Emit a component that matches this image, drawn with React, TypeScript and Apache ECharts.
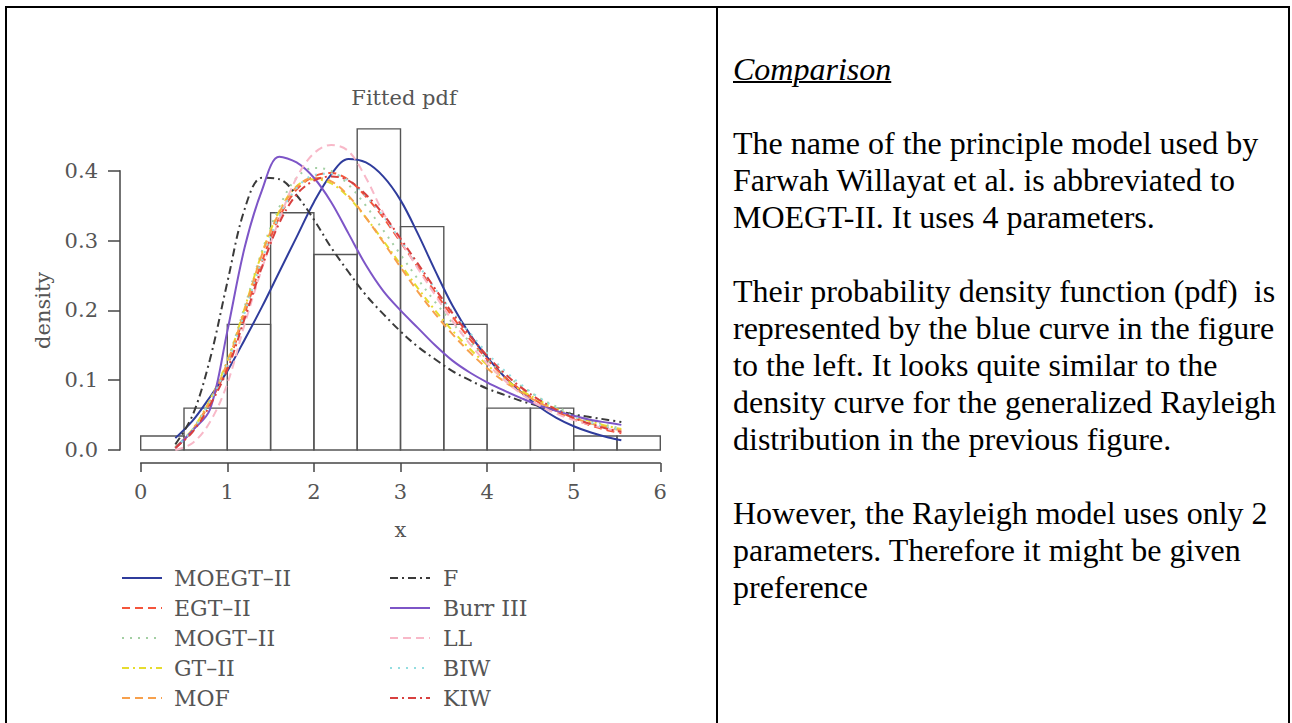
import React, { useEffect, useRef } from "react";
import * as echarts from "echarts";

// ---------- data ----------
const BIN_EDGES = [0, 0.5, 1, 1.5, 2, 2.5, 3, 3.5, 4, 4.5, 5, 5.5, 6];
const BIN_DENSITY = [0.02, 0.06, 0.18, 0.34, 0.28, 0.46, 0.32, 0.18, 0.06, 0.06, 0.02, 0.02];

const X_VALUES = [0.4, 0.6, 0.8, 1.0, 1.2, 1.4, 1.6, 1.8, 2.0, 2.2, 2.4, 2.6, 2.8, 3.0, 3.2, 3.4, 3.6, 3.8, 4.0, 4.2, 4.4, 4.6, 4.8, 5.0, 5.2, 5.4, 5.55];

const MOEGT_II = [0.017, 0.042, 0.076, 0.113, 0.158, 0.205, 0.255, 0.305, 0.355, 0.395, 0.417, 0.412, 0.392, 0.358, 0.31, 0.257, 0.207, 0.166, 0.133, 0.105, 0.082, 0.062, 0.046, 0.034, 0.025, 0.018, 0.014];
const EGT_II = [0.003, 0.028, 0.068, 0.12, 0.195, 0.27, 0.333, 0.373, 0.392, 0.397, 0.387, 0.363, 0.333, 0.298, 0.262, 0.226, 0.191, 0.159, 0.13, 0.105, 0.085, 0.068, 0.055, 0.044, 0.035, 0.028, 0.024];
const MOGT_II = [0.004, 0.03, 0.072, 0.128, 0.205, 0.285, 0.348, 0.39, 0.404, 0.4, 0.38, 0.35, 0.315, 0.28, 0.245, 0.212, 0.182, 0.155, 0.13, 0.109, 0.091, 0.075, 0.062, 0.051, 0.042, 0.035, 0.031];
const GT_II = [0.004, 0.03, 0.072, 0.127, 0.203, 0.282, 0.342, 0.378, 0.388, 0.382, 0.362, 0.333, 0.3, 0.266, 0.232, 0.2, 0.171, 0.145, 0.122, 0.102, 0.085, 0.071, 0.059, 0.049, 0.041, 0.034, 0.03];
const MOF = [0.003, 0.029, 0.07, 0.125, 0.2, 0.28, 0.34, 0.377, 0.39, 0.385, 0.364, 0.333, 0.298, 0.262, 0.227, 0.195, 0.166, 0.14, 0.117, 0.098, 0.082, 0.068, 0.056, 0.046, 0.038, 0.032, 0.028];
const F_DIST = [0.008, 0.05, 0.13, 0.24, 0.345, 0.39, 0.388, 0.365, 0.33, 0.29, 0.255, 0.222, 0.195, 0.17, 0.148, 0.13, 0.113, 0.1, 0.088, 0.079, 0.07, 0.063, 0.057, 0.051, 0.047, 0.043, 0.04];
const BURR_III = [0.003, 0.028, 0.058, 0.17, 0.29, 0.372, 0.42, 0.412, 0.39, 0.355, 0.31, 0.265, 0.228, 0.2, 0.175, 0.15, 0.128, 0.111, 0.097, 0.085, 0.074, 0.064, 0.056, 0.049, 0.043, 0.039, 0.036];
const LL = [0.0, 0.01, 0.04, 0.095, 0.18, 0.26, 0.33, 0.39, 0.425, 0.437, 0.428, 0.39, 0.34, 0.3, 0.26, 0.222, 0.185, 0.152, 0.124, 0.1, 0.08, 0.064, 0.052, 0.043, 0.036, 0.03, 0.026];
const BIW = [0.004, 0.029, 0.069, 0.122, 0.196, 0.272, 0.335, 0.375, 0.394, 0.396, 0.386, 0.364, 0.335, 0.301, 0.266, 0.231, 0.198, 0.168, 0.139, 0.114, 0.093, 0.075, 0.06, 0.048, 0.039, 0.032, 0.029];
const KIW = [0.003, 0.026, 0.064, 0.115, 0.188, 0.262, 0.325, 0.366, 0.386, 0.392, 0.386, 0.366, 0.338, 0.303, 0.267, 0.231, 0.196, 0.164, 0.135, 0.11, 0.089, 0.072, 0.058, 0.046, 0.037, 0.03, 0.026];

const X_TICKS = [0, 6, 1];
const Y_TICKS = [0, 0.4, 0.1];

const LEFT_LEGEND = ["MOEGT–II", "EGT–II", "MOGT–II", "GT–II", "MOF"];
const RIGHT_LEGEND = ["F", "Burr III", "LL", "BIW", "KIW"];

const TITLE = "Fitted pdf";
const X_NAME = "x";
const Y_NAME = "density";

const HEADING = "Comparison";
const TEXT_LINES = [
  "",
  "The name of the principle model used by",
  "Farwah Willayat et al. is abbreviated to",
  "MOEGT-II. It uses 4 parameters.",
  "",
  "Their probability density function (pdf)  is",
  "represented by the blue curve in the figure",
  "to the left. It looks quite similar to the",
  "density curve for the generalized Rayleigh",
  "distribution in the previous figure.",
  "",
  "However, the Rayleigh model uses only 2",
  "parameters. Therefore it might be given",
  "preference",
];

// ---------- styles ----------
const FONT = "DejaVu Serif";
const TEXT_COLOR = "#555";

type Curve = { name: string; data: number[]; color: string; type: any; width: number };

const CURVES: Curve[] = [
  { name: "MOEGT–II", data: MOEGT_II, color: "#2f3c9c", type: "solid", width: 2 },
  { name: "EGT–II", data: EGT_II, color: "#f4553c", type: [8, 5], width: 2 },
  { name: "MOGT–II", data: MOGT_II, color: "#a3cfa3", type: [2, 6], width: 2 },
  { name: "GT–II", data: GT_II, color: "#e6dc2e", type: [7, 4, 2, 4], width: 2 },
  { name: "MOF", data: MOF, color: "#f7a04c", type: [8, 5], width: 2 },
  { name: "F", data: F_DIST, color: "#3a3a3a", type: [8, 4, 2, 4], width: 2 },
  { name: "Burr III", data: BURR_III, color: "#7d55c7", type: "solid", width: 2 },
  { name: "LL", data: LL, color: "#f8b8c8", type: [8, 5], width: 2 },
  { name: "BIW", data: BIW, color: "#93dde0", type: [2, 6], width: 2 },
  { name: "KIW", data: KIW, color: "#d8403f", type: [8, 4, 2, 4], width: 2 },
];

function buildOption() {
  const histData = BIN_DENSITY.map((h, i) => [BIN_EDGES[i], BIN_EDGES[i + 1], h]);

  const lineSeries = CURVES.map((c) => ({
    type: "line",
    name: c.name,
    data: X_VALUES.map((x, i) => [x, c.data[i]]),
    smooth: 0.35,
    symbol: "none",
    showSymbol: false,
    clip: false,
    z: 3,
    lineStyle: { color: c.color, width: c.width, type: c.type },
    itemStyle: { color: c.color },
  }));

  const legendText = { fontFamily: FONT, fontSize: 22, color: TEXT_COLOR, lineHeight: 30 };
  const legendCommon = {
    orient: "vertical",
    padding: 0,
    itemGap: 0,
    itemWidth: 40,
    itemHeight: 14,
    itemStyle: { color: "transparent", borderWidth: 0, opacity: 0 },
    lineStyle: { width: 2, opacity: 1 },
  };

  return {
    animation: false,
    backgroundColor: "transparent",
    title: {
      text: TITLE,
      left: 399,
      top: 82,
      textAlign: "center",
      textStyle: { fontFamily: FONT, fontSize: 21, fontWeight: "normal", color: TEXT_COLOR },
    },
    legend: [
      { ...legendCommon, data: LEFT_LEGEND, left: 121, top: 563, textStyle: { ...legendText, padding: [0, 0, 0, 7] } },
      { ...legendCommon, data: RIGHT_LEGEND, left: 389, top: 563, textStyle: { ...legendText, padding: [0, 0, 0, 8] } },
    ],
    grid: { left: 140.7, top: 170.8, width: 519.6, height: 279.2, containLabel: false },
    xAxis: {
      type: "value",
      min: X_TICKS[0],
      max: X_TICKS[1],
      interval: X_TICKS[2],
      offset: 13,
      name: X_NAME,
      nameLocation: "middle",
      nameGap: 56,
      nameTextStyle: { fontFamily: FONT, fontSize: 21, color: TEXT_COLOR },
      axisLine: { show: true, onZero: false, lineStyle: { color: "#444", width: 1.5 } },
      axisTick: { show: true, length: 9, lineStyle: { color: "#444", width: 1.5 } },
      axisLabel: { fontFamily: FONT, fontSize: 21, color: TEXT_COLOR, margin: 18 },
      splitLine: { show: false },
    },
    yAxis: {
      type: "value",
      min: Y_TICKS[0],
      max: Y_TICKS[1],
      interval: Y_TICKS[2],
      offset: 20.7,
      name: Y_NAME,
      nameLocation: "middle",
      nameGap: 66,
      nameRotate: 90,
      nameTextStyle: { fontFamily: FONT, fontSize: 21, color: TEXT_COLOR },
      axisLine: { show: true, onZero: false, lineStyle: { color: "#444", width: 1.5 } },
      axisTick: { show: true, length: 12, lineStyle: { color: "#444", width: 1.5 } },
      axisLabel: {
        fontFamily: FONT,
        fontSize: 21,
        color: TEXT_COLOR,
        margin: 22,
        formatter: (v: number) => v.toFixed(1),
      },
      splitLine: { show: false },
    },
    series: [
      {
        type: "custom",
        name: "histogram",
        data: histData,
        z: 1,
        clip: false,
        encode: { x: [0, 1], y: 2 },
        renderItem: (params: any, api: any) => {
          const p0 = api.coord([api.value(0), api.value(2)]);
          const p1 = api.coord([api.value(1), 0]);
          return {
            type: "rect",
            shape: { x: p0[0], y: p0[1], width: p1[0] - p0[0], height: p1[1] - p0[1] },
            style: { fill: "none", stroke: "#555", lineWidth: 1.4 },
          };
        },
      },
      ...lineSeries,
    ],
  };
}

export default function App() {
  const ref = useRef<HTMLDivElement>(null);

  useEffect(() => {
    if (!ref.current) return;
    const chart = echarts.init(ref.current, null, { renderer: "svg" });
    chart.setOption(buildOption() as any);
    return () => chart.dispose();
  }, []);

  const lineTop = (k: number) => 69 + 37 * k - 18.5;

  return (
    <div
      style={{
        position: "absolute",
        left: 0,
        top: 0,
        width: 1292,
        height: 723,
        background: "#fff",
        overflow: "hidden",
      }}
    >
      <div
        style={{
          position: "absolute",
          left: 5,
          top: 6,
          width: 1285,
          height: 760,
          border: "2px solid #000",
          boxSizing: "border-box",
        }}
      />
      <div style={{ position: "absolute", left: 716, top: 6, width: 2, height: 760, background: "#000" }} />
      <div ref={ref} style={{ position: "absolute", left: 0, top: 0, width: 716, height: 723 }} />
      <div
        style={{
          position: "absolute",
          left: 733,
          top: lineTop(0),
          lineHeight: "37px",
          fontFamily: "'Liberation Serif', 'Times New Roman', serif",
          fontSize: 32,
          fontStyle: "italic",
          textDecoration: "underline",
          textDecorationThickness: "1.5px",
          color: "#000",
          whiteSpace: "pre",
        }}
      >
        {HEADING}
      </div>
      {TEXT_LINES.map((t, i) =>
        t ? (
          <div
            key={i}
            style={{
              position: "absolute",
              left: 733,
              top: lineTop(i + 1),
              lineHeight: "37px",
              fontFamily: "'Liberation Serif', 'Times New Roman', serif",
              fontSize: 32,
              color: "#000",
              whiteSpace: "pre",
            }}
          >
            {t}
          </div>
        ) : null
      )}
    </div>
  );
}
